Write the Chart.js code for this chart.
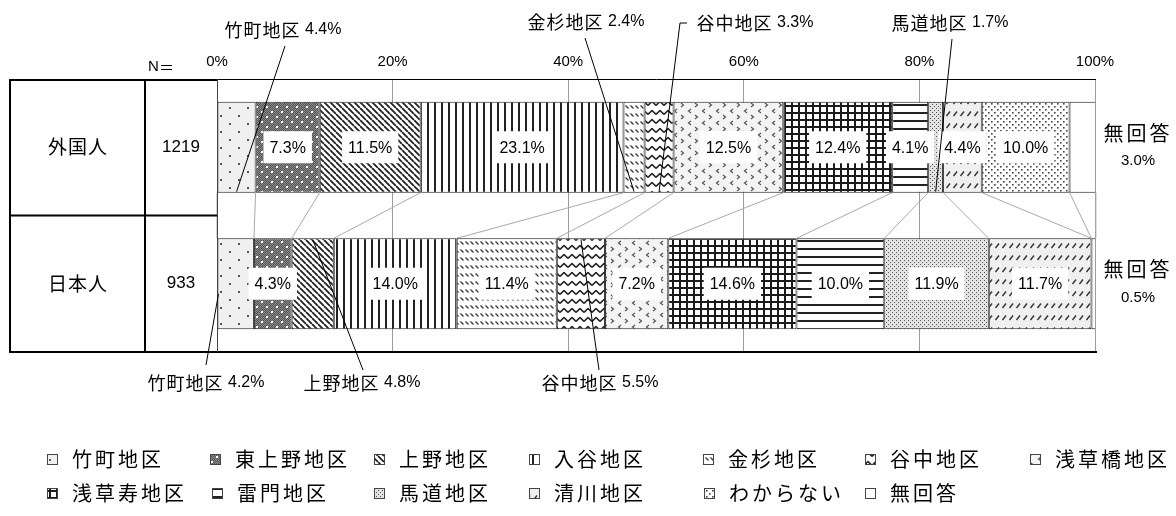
<!DOCTYPE html>
<html lang="ja">
<head>
<meta charset="utf-8">
<title>居住地区</title>
<script src="https://cdn.jsdelivr.net/npm/chart.js@4.4.1/dist/chart.umd.min.js"></script>
<style>
  html, body { margin: 0; padding: 0; background: #fff; }
  canvas { display: block; }
</style>
</head>
<body>
<canvas id="areaChart" width="1176" height="516"></canvas>
<script>
// 回答者グループと回答数
const groups = ['外国人', '日本人'];
const groupN = [1219, 933];
// 地区（凡例の順）
const areas = ['竹町地区', '東上野地区', '上野地区', '入谷地区', '金杉地区', '谷中地区', '浅草橋地区',
               '浅草寿地区', '雷門地区', '馬道地区', '清川地区', 'わからない', '無回答'];
// 構成比（％）
const foreignPct  = [4.4, 7.3, 11.5, 23.1, 2.4, 3.3, 12.5, 12.4, 4.1, 1.7, 4.4, 10.0, 3.0];
const japanesePct = [4.2, 4.3, 4.8, 14.0, 11.4, 5.5, 7.2, 14.6, 10.0, 11.9, 11.7, 0.0, 0.5];
const tickValues = [0, 20, 40, 60, 80, 100];

const LATIN = '"Liberation Sans", Arial, sans-serif';
const CJK = '"Noto Sans CJK JP", "Noto Sans", sans-serif';

// 模様（ハッチング）
function makePattern(w, h, draw) {
  const c = document.createElement('canvas');
  c.width = w; c.height = h;
  const g = c.getContext('2d');
  draw(g, w, h);
  return g.createPattern(c, 'repeat');
}
const patternMakers = [
  // 竹町：薄いグレーにまばらな点
  () => makePattern(18, 16, (g, w, h) => {
    g.fillStyle = '#f0f0f0'; g.fillRect(0, 0, w, h);
    g.fillStyle = '#555'; g.fillRect(4, 3, 2, 2); g.fillRect(13, 11, 2, 2);
  }),
  // 東上野：濃いグレーに白点
  () => makePattern(10, 10, (g, w, h) => {
    for (let y = 0; y < h; y++) for (let x = 0; x < w; x++) {
      g.fillStyle = (x + y) % 2 ? '#555' : '#8a8a8a'; g.fillRect(x, y, 1, 1);
    }
    g.fillStyle = '#fff'; g.fillRect(1, 1, 2, 2); g.fillRect(6, 6, 2, 2);
  }),
  // 上野：右下がり斜線
  () => makePattern(6, 6, (g, w, h) => {
    g.fillStyle = '#fff'; g.fillRect(0, 0, w, h);
    g.strokeStyle = '#222'; g.lineWidth = 1.8;
    g.beginPath();
    for (let k = -w; k <= w; k += w) { g.moveTo(k, 0); g.lineTo(k + w, h); }
    g.stroke();
  }),
  // 入谷：縦線
  () => makePattern(7, 4, (g, w, h) => {
    g.fillStyle = '#fff'; g.fillRect(0, 0, w, h);
    g.fillStyle = '#222'; g.fillRect(0, 0, 2, h);
  }),
  // 金杉：右下がり破線
  () => makePattern(5, 8, (g, w, h) => {
    g.fillStyle = '#fff'; g.fillRect(0, 0, w, h);
    g.strokeStyle = '#333'; g.lineWidth = 1.3;
    g.beginPath(); g.moveTo(0.5, 1.5); g.lineTo(3.5, 4.5); g.stroke();
  }),
  // 谷中：波線
  () => makePattern(8, 9, (g, w, h) => {
    g.fillStyle = '#fff'; g.fillRect(0, 0, w, h);
    g.strokeStyle = '#222'; g.lineWidth = 1.6; g.lineJoin = 'round';
    g.beginPath(); g.moveTo(0, 6.5); g.lineTo(4, 2.5); g.lineTo(8, 6.5); g.stroke();
  }),
  // 浅草橋：山形
  () => makePattern(14, 12, (g, w, h) => {
    g.fillStyle = '#f4f4f4'; g.fillRect(0, 0, w, h);
    g.strokeStyle = '#555'; g.lineWidth = 1.2;
    g.beginPath();
    g.moveTo(5, 1); g.lineTo(2.5, 3); g.lineTo(5, 5);
    g.moveTo(9, 7); g.lineTo(11.5, 9); g.lineTo(9, 11);
    g.stroke();
  }),
  // 浅草寿：格子
  () => makePattern(7, 7, (g, w, h) => {
    g.fillStyle = '#fff'; g.fillRect(0, 0, w, h);
    g.fillStyle = '#1a1a1a'; g.fillRect(0, 0, w, 2); g.fillRect(0, 0, 2, h);
  }),
  // 雷門：横線
  () => makePattern(4, 8, (g, w, h) => {
    g.fillStyle = '#fff'; g.fillRect(0, 0, w, h);
    g.fillStyle = '#222'; g.fillRect(0, 0, w, 2);
  }),
  // 馬道：細かい点
  () => makePattern(4, 4, (g, w, h) => {
    g.fillStyle = '#e2e2e2'; g.fillRect(0, 0, w, h);
    g.fillStyle = '#555'; g.fillRect(0, 0, 1, 1); g.fillRect(2, 2, 1, 1);
  }),
  // 清川：右上がり破線
  () => makePattern(7, 12, (g, w, h) => {
    g.fillStyle = '#f0f0f0'; g.fillRect(0, 0, w, h);
    g.strokeStyle = '#333'; g.lineWidth = 1.4;
    g.beginPath(); g.moveTo(1.5, 8); g.lineTo(5, 3.5); g.stroke();
  }),
  // わからない：点
  () => makePattern(6, 6, (g, w, h) => {
    g.fillStyle = '#fff'; g.fillRect(0, 0, w, h);
    g.fillStyle = '#444'; g.fillRect(1, 1, 1.6, 1.6); g.fillRect(4, 4, 1.6, 1.6);
  }),
  // 無回答：白
  () => '#ffffff'
];
const patterns = patternMakers.map(fn => fn());

// 引き出し線ラベル（位置だけのレイアウト指定）
const callouts = [
  { ds: 0, bar: 0, x: 283, y: 30, from: [285, 46], to: 'bottom' },
  { ds: 4, bar: 0, x: 586, y: 22, from: [585, 38], to: 'bottom' },
  { ds: 5, bar: 0, x: 755, y: 23, from: [687, 23], elbow: [680, 23], to: 'bottom' },
  { ds: 9, bar: 0, x: 950, y: 23, from: [952, 39], to: 'bottom' },
  { ds: 0, bar: 1, x: 206, y: 383, from: [206, 365], to: 'startMid' },
  { ds: 2, bar: 1, x: 362, y: 383, from: [363, 370], to: 'top' },
  { ds: 5, bar: 1, x: 600, y: 383, from: [599, 370], to: 'top' }
];
const legendRows = [
  { y: 459, cols: [72, 235, 399, 554, 728, 890, 1055] },
  { y: 493, cols: [72, 237, 399, 554, 729, 890] }
];

function fmt(v) { return v.toFixed(1) + '%'; }

// 日本語と数字でフォントを分けて描く
function drawMixed(ctx, text, cx, cy, cjkSize, latinSize, cjkSpacing, align) {
  const runs = [];
  for (const ch of text) {
    const isCjk = /[\u3040-\u30ff\u3400-\u9fff\uff00-\uffef]/.test(ch);
    const last = runs[runs.length - 1];
    if (last && last.cjk === isCjk) last.t += ch; else runs.push({ t: ch, cjk: isCjk });
  }
  const setFont = r => {
    ctx.font = r.cjk ? cjkSize + 'px ' + CJK : latinSize + 'px ' + LATIN;
    ctx.letterSpacing = r.cjk ? cjkSpacing + 'px' : '0px';
  };
  let total = 0;
  runs.forEach(r => { setFont(r); r.w = ctx.measureText(r.t).width; total += r.w; });
  let x = align === 'left' ? cx : cx - total / 2;
  ctx.textAlign = 'left';
  ctx.textBaseline = 'middle';
  runs.forEach(r => { setFont(r); ctx.fillText(r.t, x, cy); x += r.w; });
  ctx.letterSpacing = '0px';
}

function segment(chart, ds, bar) {
  const el = chart.getDatasetMeta(ds).data[bar];
  return {
    x0: Math.min(el.base, el.x), x1: Math.max(el.base, el.x),
    y: el.y, top: el.y - el.height / 2, bottom: el.y + el.height / 2
  };
}

const chartDecor = {
  id: 'chartDecor',
  beforeDatasetsDraw(chart) {
    // 系列線
    const ctx = chart.ctx, xs = chart.scales.x;
    const b0 = segment(chart, 0, 0), b1 = segment(chart, 0, 1);
    ctx.save();
    ctx.strokeStyle = '#a8a8a8'; ctx.lineWidth = 1;
    let c0 = 0, c1 = 0;
    ctx.beginPath();
    for (let i = 0; i <= areas.length; i++) {
      ctx.moveTo(xs.getPixelForValue(c0), b0.bottom);
      ctx.lineTo(xs.getPixelForValue(c1), b1.top);
      if (i < areas.length) { c0 += foreignPct[i]; c1 += japanesePct[i]; }
    }
    ctx.stroke();
    ctx.restore();
  },
  afterDraw(chart) {
    const ctx = chart.ctx, a = chart.chartArea, xs = chart.scales.x;
    const mid = (a.top + a.bottom) / 2;
    ctx.save();

    // 表の罫線
    ctx.strokeStyle = '#000'; ctx.lineWidth = 2;
    ctx.beginPath();
    ctx.moveTo(9, a.top + 1); ctx.lineTo(a.left, a.top + 1);
    ctx.moveTo(10, a.top); ctx.lineTo(10, a.bottom);
    ctx.moveTo(145, a.top); ctx.lineTo(145, a.bottom);
    ctx.moveTo(10, mid); ctx.lineTo(a.left, mid);
    ctx.moveTo(9, a.bottom); ctx.lineTo(a.right + 2, a.bottom);
    ctx.stroke();
    ctx.strokeStyle = '#444'; ctx.lineWidth = 1;
    ctx.beginPath(); ctx.moveTo(a.left + 0.5, a.top); ctx.lineTo(a.left + 0.5, a.bottom); ctx.stroke();

    ctx.fillStyle = '#000';
    drawMixed(ctx, 'N＝', 161, 67, 15, 15, 0, 'center');
    groups.forEach((g, b) => {
      const s = segment(chart, 0, b);
      drawMixed(ctx, g, 78, s.y, 19, 17, 1, 'center');
      ctx.font = '17px ' + LATIN; ctx.textAlign = 'center'; ctx.textBaseline = 'middle';
      ctx.fillText(String(groupN[b]), 181, s.y);
    });

    // 棒の中のラベル
    const series = [foreignPct, japanesePct];
    const last = areas.length - 1;
    series.forEach((vals, b) => {
      vals.forEach((v, ds) => {
        if (ds === last || v <= 0) return;
        if (callouts.some(c => c.ds === ds && c.bar === b)) return;
        const s = segment(chart, ds, b);
        const cx = (s.x0 + s.x1) / 2, txt = fmt(v);
        ctx.font = '16px ' + LATIN;
        const w = ctx.measureText(txt).width + 12;
        ctx.fillStyle = '#fff';
        ctx.fillRect(cx - w / 2, s.y - 16, w, 32);
        ctx.fillStyle = '#000'; ctx.textAlign = 'center'; ctx.textBaseline = 'middle';
        ctx.fillText(txt, cx, s.y + 1);
      });
      // 無回答（右外側）
      const s = segment(chart, last, b);
      const rx = xs.getPixelForValue(100) + 43;
      ctx.fillStyle = '#000';
      drawMixed(ctx, areas[last], rx, s.y - 14, 20, 15, 3, 'center');
      ctx.font = '15px ' + LATIN; ctx.textAlign = 'center'; ctx.textBaseline = 'middle';
      ctx.fillText(fmt(vals[last]), rx, s.y + 14);
    });

    // 引き出し線ラベル
    callouts.forEach(c => {
      const s = segment(chart, c.ds, c.bar);
      const cx = (s.x0 + s.x1) / 2;
      let tx, ty;
      if (c.to === 'bottom') { tx = cx; ty = s.bottom - 1; }
      else if (c.to === 'top') { tx = cx; ty = s.top + 1; }
      else { tx = s.x0 + 1; ty = s.y + 10; }
      ctx.strokeStyle = '#000'; ctx.lineWidth = 1;
      ctx.beginPath();
      ctx.moveTo(c.from[0], c.from[1]);
      if (c.elbow) ctx.lineTo(c.elbow[0], c.elbow[1]);
      ctx.lineTo(tx, ty);
      ctx.stroke();
      const v = (c.bar === 0 ? foreignPct : japanesePct)[c.ds];
      ctx.fillStyle = '#000';
      drawMixed(ctx, areas[c.ds] + ' ' + fmt(v), c.x, c.y, 18, 16, 1, 'center');
    });

    // 凡例
    let k = 0;
    legendRows.forEach(row => {
      row.cols.forEach(tx => {
        const i = k++;
        const mx = tx - 25, my = row.y - 5;
        ctx.fillStyle = patterns[i];
        ctx.fillRect(mx, my, 10, 10);
        ctx.strokeStyle = '#444'; ctx.lineWidth = 1;
        ctx.strokeRect(mx + 0.5, my + 0.5, 10, 10);
        ctx.fillStyle = '#000';
        drawMixed(ctx, areas[i], tx, row.y, 20, 18, 3, 'left');
      });
    });
    ctx.restore();
  }
};

const chart = new Chart(document.getElementById('areaChart'), {
  type: 'bar',
  data: {
    labels: groups,
    datasets: areas.map((name, i) => ({
      label: name,
      data: [foreignPct[i], japanesePct[i]],
      backgroundColor: patterns[i],
      borderColor: '#1a1a1a',
      borderWidth: 1,
      borderSkipped: false,
      barPercentage: 0.665,
      categoryPercentage: 1
    }))
  },
  options: {
    indexAxis: 'y',
    responsive: false,
    devicePixelRatio: 1,
    animation: false,
    layout: { padding: { left: 217, right: 81, top: 45, bottom: 164 } },
    plugins: {
      legend: { display: false },
      tooltip: { enabled: false },
      title: { display: false }
    },
    scales: {
      x: {
        position: 'top',
        stacked: true,
        min: 0,
        max: 100,
        afterBuildTicks: scale => { scale.ticks = tickValues.map(v => ({ value: v })); },
        ticks: {
          callback: v => v + '%',
          color: '#000',
          padding: 8,
          maxRotation: 0,
          font: { family: LATIN, size: 15 }
        },
        grid: { color: '#9c9c9c', lineWidth: 1, drawTicks: false },
        border: { color: '#000', width: 1 }
      },
      y: { stacked: true, display: false }
    }
  },
  plugins: [chartDecor]
});
</script>
</body>
</html>
